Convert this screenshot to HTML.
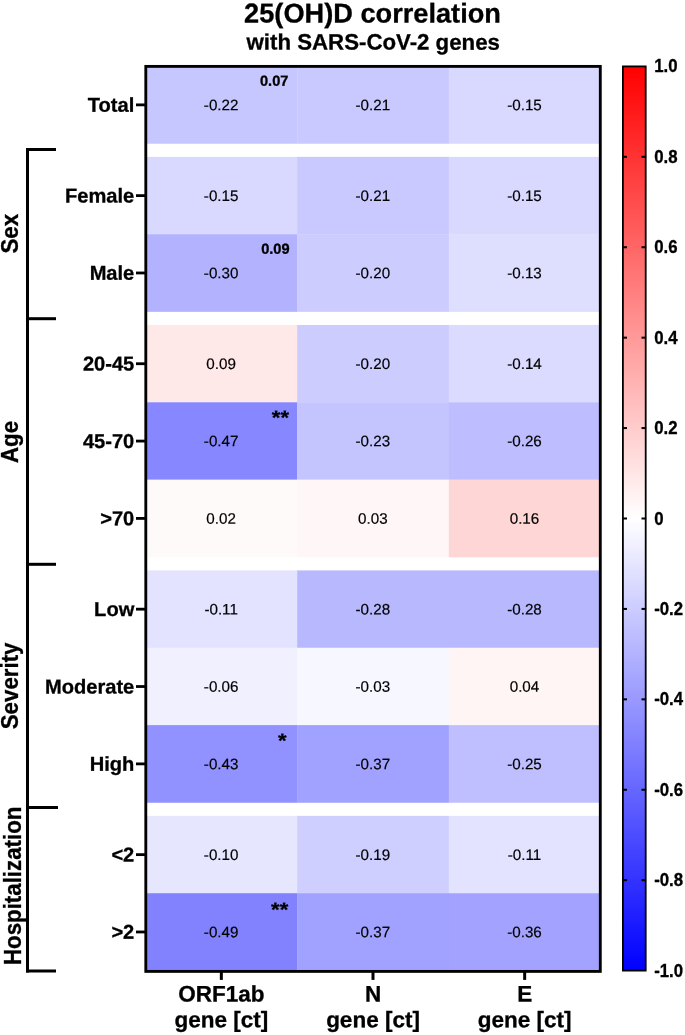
<!DOCTYPE html>
<html><head><meta charset="utf-8"><title>25(OH)D correlation</title>
<style>
html,body{margin:0;padding:0;background:#fff;}
svg{display:block;will-change:transform;}
text{font-family:"Liberation Sans",sans-serif;fill:#000;stroke:#000;stroke-width:0.2px;}
.b{font-weight:bold;stroke-width:0.3px;}
</style></head><body>
<svg width="685" height="1035" viewBox="0 0 685 1035">
<defs><linearGradient id="cb" x1="0" y1="0" x2="0" y2="1">
<stop offset="0" stop-color="#ff0000"/><stop offset="0.5" stop-color="#ffffff"/><stop offset="1" stop-color="#0000ff"/>
</linearGradient></defs>
<rect width="685" height="1035" fill="#fff"/>
<text class="b" transform="translate(372.50,22.50) matrix(1,0.0005,0,1,0,0)" font-size="27.2" text-anchor="middle">25(OH)D correlation</text>
<text class="b" transform="translate(373.20,49.60) matrix(1,0.0005,0,1,0,0)" font-size="22.25" text-anchor="middle">with SARS-CoV-2 genes</text>
<rect x="145.50" y="66.10" width="151.97" height="77.65" fill="rgb(199,199,255)"/>
<rect x="297.17" y="66.10" width="151.97" height="77.65" fill="rgb(201,201,255)"/>
<rect x="448.83" y="66.10" width="151.97" height="77.65" fill="rgb(217,217,255)"/>
<rect x="145.50" y="156.85" width="151.97" height="77.65" fill="rgb(217,217,255)"/>
<rect x="297.17" y="156.85" width="151.97" height="77.65" fill="rgb(201,201,255)"/>
<rect x="448.83" y="156.85" width="151.97" height="77.65" fill="rgb(217,217,255)"/>
<rect x="145.50" y="234.20" width="151.97" height="77.65" fill="rgb(178,178,255)"/>
<rect x="297.17" y="234.20" width="151.97" height="77.65" fill="rgb(204,204,255)"/>
<rect x="448.83" y="234.20" width="151.97" height="77.65" fill="rgb(222,222,255)"/>
<rect x="145.50" y="324.95" width="151.97" height="77.65" fill="rgb(255,232,232)"/>
<rect x="297.17" y="324.95" width="151.97" height="77.65" fill="rgb(204,204,255)"/>
<rect x="448.83" y="324.95" width="151.97" height="77.65" fill="rgb(219,219,255)"/>
<rect x="145.50" y="402.30" width="151.97" height="77.65" fill="rgb(135,135,255)"/>
<rect x="297.17" y="402.30" width="151.97" height="77.65" fill="rgb(196,196,255)"/>
<rect x="448.83" y="402.30" width="151.97" height="77.65" fill="rgb(189,189,255)"/>
<rect x="145.50" y="479.65" width="151.97" height="77.65" fill="rgb(255,250,250)"/>
<rect x="297.17" y="479.65" width="151.97" height="77.65" fill="rgb(255,247,247)"/>
<rect x="448.83" y="479.65" width="151.97" height="77.65" fill="rgb(255,214,214)"/>
<rect x="145.50" y="570.40" width="151.97" height="77.65" fill="rgb(227,227,255)"/>
<rect x="297.17" y="570.40" width="151.97" height="77.65" fill="rgb(184,184,255)"/>
<rect x="448.83" y="570.40" width="151.97" height="77.65" fill="rgb(184,184,255)"/>
<rect x="145.50" y="647.75" width="151.97" height="77.65" fill="rgb(240,240,255)"/>
<rect x="297.17" y="647.75" width="151.97" height="77.65" fill="rgb(247,247,255)"/>
<rect x="448.83" y="647.75" width="151.97" height="77.65" fill="rgb(255,245,245)"/>
<rect x="145.50" y="725.10" width="151.97" height="77.65" fill="rgb(145,145,255)"/>
<rect x="297.17" y="725.10" width="151.97" height="77.65" fill="rgb(161,161,255)"/>
<rect x="448.83" y="725.10" width="151.97" height="77.65" fill="rgb(191,191,255)"/>
<rect x="145.50" y="815.85" width="151.97" height="77.65" fill="rgb(230,230,255)"/>
<rect x="297.17" y="815.85" width="151.97" height="77.65" fill="rgb(207,207,255)"/>
<rect x="448.83" y="815.85" width="151.97" height="77.65" fill="rgb(227,227,255)"/>
<rect x="145.50" y="893.20" width="151.97" height="77.65" fill="rgb(130,130,255)"/>
<rect x="297.17" y="893.20" width="151.97" height="77.65" fill="rgb(161,161,255)"/>
<rect x="448.83" y="893.20" width="151.97" height="77.65" fill="rgb(163,163,255)"/>
<rect x="145.8" y="66.4" width="454.5" height="905.0" fill="none" stroke="#000" stroke-width="2.85"/>
<text transform="translate(221.13,110.17) matrix(1,0.0005,0,1,0,0)" font-size="15.2" text-anchor="middle">-0.22</text>
<text transform="translate(372.80,110.17) matrix(1,0.0005,0,1,0,0)" font-size="15.2" text-anchor="middle">-0.21</text>
<text transform="translate(524.47,110.17) matrix(1,0.0005,0,1,0,0)" font-size="15.2" text-anchor="middle">-0.15</text>
<text class="b" transform="translate(274.20,85.70) matrix(1,0.0005,0,1,0,0)" font-size="14.6" text-anchor="middle">0.07</text>
<rect x="136" y="103.47" width="9" height="2.8" fill="#000"/>
<text class="b" transform="translate(134.30,111.77) matrix(1,0.0005,0,1,0,0)" font-size="20.1" text-anchor="end">Total</text>
<text transform="translate(221.13,200.92) matrix(1,0.0005,0,1,0,0)" font-size="15.2" text-anchor="middle">-0.15</text>
<text transform="translate(372.80,200.92) matrix(1,0.0005,0,1,0,0)" font-size="15.2" text-anchor="middle">-0.21</text>
<text transform="translate(524.47,200.92) matrix(1,0.0005,0,1,0,0)" font-size="15.2" text-anchor="middle">-0.15</text>
<rect x="136" y="194.22" width="9" height="2.8" fill="#000"/>
<text class="b" transform="translate(134.30,202.52) matrix(1,0.0005,0,1,0,0)" font-size="20.1" text-anchor="end">Female</text>
<text transform="translate(221.13,278.27) matrix(1,0.0005,0,1,0,0)" font-size="15.2" text-anchor="middle">-0.30</text>
<text transform="translate(372.80,278.27) matrix(1,0.0005,0,1,0,0)" font-size="15.2" text-anchor="middle">-0.20</text>
<text transform="translate(524.47,278.27) matrix(1,0.0005,0,1,0,0)" font-size="15.2" text-anchor="middle">-0.13</text>
<text class="b" transform="translate(275.40,253.80) matrix(1,0.0005,0,1,0,0)" font-size="14.6" text-anchor="middle">0.09</text>
<rect x="136" y="271.57" width="9" height="2.8" fill="#000"/>
<text class="b" transform="translate(134.30,279.88) matrix(1,0.0005,0,1,0,0)" font-size="20.1" text-anchor="end">Male</text>
<text transform="translate(221.13,369.02) matrix(1,0.0005,0,1,0,0)" font-size="15.2" text-anchor="middle">0.09</text>
<text transform="translate(372.80,369.02) matrix(1,0.0005,0,1,0,0)" font-size="15.2" text-anchor="middle">-0.20</text>
<text transform="translate(524.47,369.02) matrix(1,0.0005,0,1,0,0)" font-size="15.2" text-anchor="middle">-0.14</text>
<rect x="136" y="362.32" width="9" height="2.8" fill="#000"/>
<text class="b" transform="translate(134.30,370.62) matrix(1,0.0005,0,1,0,0)" font-size="20.1" text-anchor="end">20-45</text>
<text transform="translate(221.13,446.37) matrix(1,0.0005,0,1,0,0)" font-size="15.2" text-anchor="middle">-0.47</text>
<text transform="translate(372.80,446.37) matrix(1,0.0005,0,1,0,0)" font-size="15.2" text-anchor="middle">-0.23</text>
<text transform="translate(524.47,446.37) matrix(1,0.0005,0,1,0,0)" font-size="15.2" text-anchor="middle">-0.26</text>
<text class="b" transform="translate(280.40,424.20) matrix(1,0.0005,0,1,0,0) scale(0.92,0.82)" font-size="24" text-anchor="middle">**</text>
<rect x="136" y="439.67" width="9" height="2.8" fill="#000"/>
<text class="b" transform="translate(134.30,447.97) matrix(1,0.0005,0,1,0,0)" font-size="20.1" text-anchor="end">45-70</text>
<text transform="translate(221.13,523.72) matrix(1,0.0005,0,1,0,0)" font-size="15.2" text-anchor="middle">0.02</text>
<text transform="translate(372.80,523.72) matrix(1,0.0005,0,1,0,0)" font-size="15.2" text-anchor="middle">0.03</text>
<text transform="translate(524.47,523.72) matrix(1,0.0005,0,1,0,0)" font-size="15.2" text-anchor="middle">0.16</text>
<rect x="136" y="517.02" width="9" height="2.8" fill="#000"/>
<text class="b" transform="translate(134.30,525.32) matrix(1,0.0005,0,1,0,0)" font-size="20.1" text-anchor="end">&gt;70</text>
<text transform="translate(221.13,614.47) matrix(1,0.0005,0,1,0,0)" font-size="15.2" text-anchor="middle">-0.11</text>
<text transform="translate(372.80,614.47) matrix(1,0.0005,0,1,0,0)" font-size="15.2" text-anchor="middle">-0.28</text>
<text transform="translate(524.47,614.47) matrix(1,0.0005,0,1,0,0)" font-size="15.2" text-anchor="middle">-0.28</text>
<rect x="136" y="607.77" width="9" height="2.8" fill="#000"/>
<text class="b" transform="translate(134.30,616.07) matrix(1,0.0005,0,1,0,0)" font-size="20.1" text-anchor="end">Low</text>
<text transform="translate(221.13,691.82) matrix(1,0.0005,0,1,0,0)" font-size="15.2" text-anchor="middle">-0.06</text>
<text transform="translate(372.80,691.82) matrix(1,0.0005,0,1,0,0)" font-size="15.2" text-anchor="middle">-0.03</text>
<text transform="translate(524.47,691.82) matrix(1,0.0005,0,1,0,0)" font-size="15.2" text-anchor="middle">0.04</text>
<rect x="136" y="685.12" width="9" height="2.8" fill="#000"/>
<text class="b" transform="translate(134.30,693.42) matrix(1,0.0005,0,1,0,0)" font-size="20.1" text-anchor="end">Moderate</text>
<text transform="translate(221.13,769.17) matrix(1,0.0005,0,1,0,0)" font-size="15.2" text-anchor="middle">-0.43</text>
<text transform="translate(372.80,769.17) matrix(1,0.0005,0,1,0,0)" font-size="15.2" text-anchor="middle">-0.37</text>
<text transform="translate(524.47,769.17) matrix(1,0.0005,0,1,0,0)" font-size="15.2" text-anchor="middle">-0.25</text>
<text class="b" transform="translate(282.30,747.35) matrix(1,0.0005,0,1,0,0) scale(0.92,0.82)" font-size="24" text-anchor="middle">*</text>
<rect x="136" y="762.48" width="9" height="2.8" fill="#000"/>
<text class="b" transform="translate(134.30,770.77) matrix(1,0.0005,0,1,0,0)" font-size="20.1" text-anchor="end">High</text>
<text transform="translate(221.13,859.92) matrix(1,0.0005,0,1,0,0)" font-size="15.2" text-anchor="middle">-0.10</text>
<text transform="translate(372.80,859.92) matrix(1,0.0005,0,1,0,0)" font-size="15.2" text-anchor="middle">-0.19</text>
<text transform="translate(524.47,859.92) matrix(1,0.0005,0,1,0,0)" font-size="15.2" text-anchor="middle">-0.11</text>
<rect x="136" y="853.23" width="9" height="2.8" fill="#000"/>
<text class="b" transform="translate(134.30,861.52) matrix(1,0.0005,0,1,0,0)" font-size="20.1" text-anchor="end">&lt;2</text>
<text transform="translate(221.13,937.27) matrix(1,0.0005,0,1,0,0)" font-size="15.2" text-anchor="middle">-0.49</text>
<text transform="translate(372.80,937.27) matrix(1,0.0005,0,1,0,0)" font-size="15.2" text-anchor="middle">-0.37</text>
<text transform="translate(524.47,937.27) matrix(1,0.0005,0,1,0,0)" font-size="15.2" text-anchor="middle">-0.36</text>
<text class="b" transform="translate(279.70,916.20) matrix(1,0.0005,0,1,0,0) scale(0.92,0.82)" font-size="24" text-anchor="middle">**</text>
<rect x="136" y="930.58" width="9" height="2.8" fill="#000"/>
<text class="b" transform="translate(134.30,938.88) matrix(1,0.0005,0,1,0,0)" font-size="20.1" text-anchor="end">&gt;2</text>
<rect x="219.83" y="971" width="3" height="8.9" fill="#000"/>
<text class="b" transform="translate(221.33,1001.60) matrix(1,0.0005,0,1,0,0)" font-size="22.5" text-anchor="middle">ORF1ab</text>
<text class="b" transform="translate(221.33,1027.30) matrix(1,0.0005,0,1,0,0)" font-size="22.5" text-anchor="middle">gene [ct]</text>
<rect x="371.50" y="971" width="3" height="8.9" fill="#000"/>
<text class="b" transform="translate(373.00,1001.60) matrix(1,0.0005,0,1,0,0)" font-size="22.5" text-anchor="middle">N</text>
<text class="b" transform="translate(373.00,1027.30) matrix(1,0.0005,0,1,0,0)" font-size="22.5" text-anchor="middle">gene [ct]</text>
<rect x="523.17" y="971" width="3" height="8.9" fill="#000"/>
<text class="b" transform="translate(524.67,1001.60) matrix(1,0.0005,0,1,0,0)" font-size="22.5" text-anchor="middle">E</text>
<text class="b" transform="translate(524.67,1027.30) matrix(1,0.0005,0,1,0,0)" font-size="22.5" text-anchor="middle">gene [ct]</text>
<rect x="26" y="148" width="3" height="824.5" fill="#000"/>
<rect x="26" y="148.0" width="30" height="3" fill="#000"/>
<rect x="26" y="317.2" width="30" height="3" fill="#000"/>
<rect x="26" y="562.8" width="30" height="3" fill="#000"/>
<rect x="26" y="806.0" width="32" height="3" fill="#000"/>
<rect x="26" y="969.5" width="30" height="3" fill="#000"/>
<text class="b" transform="translate(18.2,233.7) rotate(-90) scale(1,1.036)" font-size="22.3" text-anchor="middle">Sex</text>
<text class="b" transform="translate(17.9,442.0) rotate(-90) scale(1,1.036)" font-size="22.3" text-anchor="middle">Age</text>
<text class="b" transform="translate(18.2,685.9) rotate(-90) scale(1,1.036)" font-size="22.3" text-anchor="middle">Severity</text>
<text class="b" transform="translate(21.2,885.8) rotate(-90) scale(1,1.036)" font-size="22.3" text-anchor="middle">Hospitalization</text>
<rect x="622.9" y="66.4" width="22.8" height="904.2" fill="url(#cb)" stroke="#000" stroke-width="1.8"/>
<text class="b" transform="translate(654.20,72.40) matrix(1,0.0005,0,1,0,0) scale(1,1.07)" font-size="16.8">1.0</text>
<rect x="622" y="155.82" width="5" height="2" fill="#000"/>
<rect x="641.5" y="155.82" width="4.6" height="2" fill="#000"/>
<text class="b" transform="translate(654.20,162.82) matrix(1,0.0005,0,1,0,0) scale(1,1.07)" font-size="16.8">0.8</text>
<rect x="622" y="246.24" width="5" height="2" fill="#000"/>
<rect x="641.5" y="246.24" width="4.6" height="2" fill="#000"/>
<text class="b" transform="translate(654.20,253.24) matrix(1,0.0005,0,1,0,0) scale(1,1.07)" font-size="16.8">0.6</text>
<rect x="622" y="336.66" width="5" height="2" fill="#000"/>
<rect x="641.5" y="336.66" width="4.6" height="2" fill="#000"/>
<text class="b" transform="translate(654.20,343.66) matrix(1,0.0005,0,1,0,0) scale(1,1.07)" font-size="16.8">0.4</text>
<rect x="622" y="427.08" width="5" height="2" fill="#000"/>
<rect x="641.5" y="427.08" width="4.6" height="2" fill="#000"/>
<text class="b" transform="translate(654.20,434.08) matrix(1,0.0005,0,1,0,0) scale(1,1.07)" font-size="16.8">0.2</text>
<rect x="622" y="517.50" width="5" height="2" fill="#000"/>
<rect x="641.5" y="517.50" width="4.6" height="2" fill="#000"/>
<text class="b" transform="translate(654.20,524.50) matrix(1,0.0005,0,1,0,0) scale(1,1.07)" font-size="16.8">0</text>
<rect x="622" y="607.92" width="5" height="2" fill="#000"/>
<rect x="641.5" y="607.92" width="4.6" height="2" fill="#000"/>
<text class="b" transform="translate(654.20,614.92) matrix(1,0.0005,0,1,0,0) scale(1,1.07)" font-size="16.8">-0.2</text>
<rect x="622" y="698.34" width="5" height="2" fill="#000"/>
<rect x="641.5" y="698.34" width="4.6" height="2" fill="#000"/>
<text class="b" transform="translate(654.20,705.34) matrix(1,0.0005,0,1,0,0) scale(1,1.07)" font-size="16.8">-0.4</text>
<rect x="622" y="788.76" width="5" height="2" fill="#000"/>
<rect x="641.5" y="788.76" width="4.6" height="2" fill="#000"/>
<text class="b" transform="translate(654.20,795.76) matrix(1,0.0005,0,1,0,0) scale(1,1.07)" font-size="16.8">-0.6</text>
<rect x="622" y="879.18" width="5" height="2" fill="#000"/>
<rect x="641.5" y="879.18" width="4.6" height="2" fill="#000"/>
<text class="b" transform="translate(654.20,886.18) matrix(1,0.0005,0,1,0,0) scale(1,1.07)" font-size="16.8">-0.8</text>
<text class="b" transform="translate(654.20,976.60) matrix(1,0.0005,0,1,0,0) scale(1,1.07)" font-size="16.8">-1.0</text>
</svg></body></html>
